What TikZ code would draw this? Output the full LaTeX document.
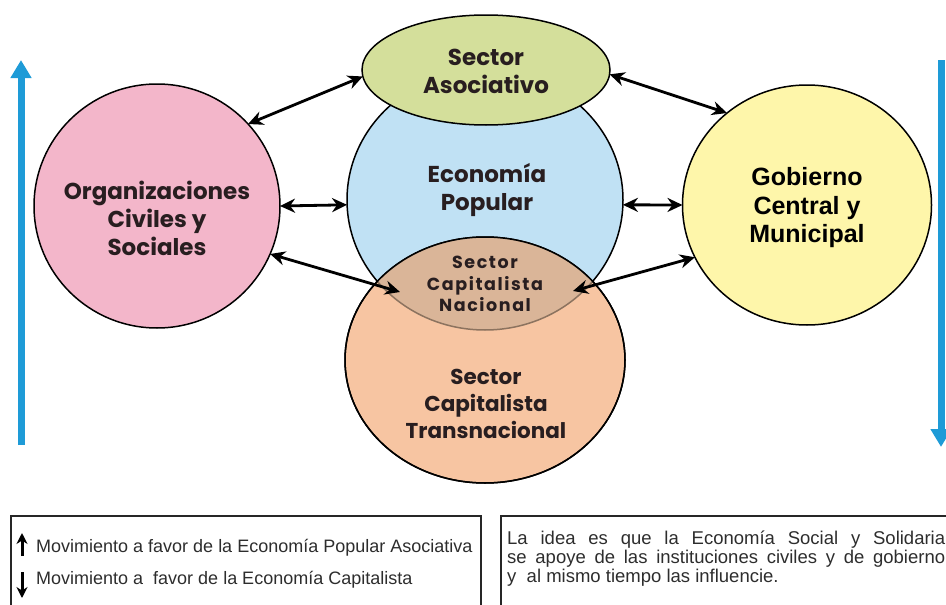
\documentclass[tikz,border=0pt]{standalone}
\usepackage{fontspec}
\setmainfont{Liberation Sans}
\newfontfamily\gothicfont{Poppins}
\usetikzlibrary{arrows.meta,shapes.geometric}
\definecolor{pinkc}{RGB}{243,182,202}
\definecolor{bluec}{RGB}{192,225,244}
\definecolor{yelc}{RGB}{254,246,170}
\definecolor{orac}{RGB}{247,197,162}
\definecolor{asoc}{RGB}{212,223,155}
\definecolor{lensc}{RGB}{218,181,152}
\definecolor{lensline}{RGB}{140,115,95}
\definecolor{arrblue}{RGB}{30,155,215}
\definecolor{txtc}{RGB}{40,30,32}
\definecolor{legtxt}{RGB}{45,45,45}
\begin{document}
\begin{tikzpicture}[x=1pt,y=-1pt,
  blob/.style={ellipse, draw=black, line width=1.5pt, inner sep=0pt, outer sep=0pt},
  ctext/.style={align=center, text=txtc, font=\gothicfont\bfseries\fontsize{23}{28}\selectfont},
  gtext/.style={align=center, text=black, font=\bfseries\fontsize{25}{28.5}\selectfont},
  ltext/.style={align=center, text=txtc, font=\gothicfont\bfseries\addfontfeature{LetterSpace=9}\fontsize{17.5}{21.5}\selectfont},
  conn/.style={{Stealth[length=15pt,width=14pt]}-{Stealth[length=15pt,width=14pt]}, line width=2.8pt, black},
  bluearrow/.style={-{Triangle[length=18pt,width=20pt]}, line width=7pt, arrblue},
  legbox/.style={draw=black!85, line width=1.6pt, inner sep=0pt, anchor=north west},
  legtext/.style={anchor=west, inner sep=0pt, text=legtxt, font=\fontsize{18}{20}\selectfont},
  legarrow/.style={-{Stealth[length=11pt,width=11pt]}, line width=3pt, black}
]
\useasboundingbox (0,0) rectangle (946,605);

% circles
\node[blob, fill=pinkc, minimum width=246pt, minimum height=244pt] (org) at (157,206) {};
\node[blob, fill=yelc, minimum width=249pt, minimum height=240pt] (gob) at (807,205) {};
\node[blob, fill=bluec, minimum width=276pt, minimum height=260pt] (eco) at (485,200) {};
\node[blob, fill=orac, minimum width=280pt, minimum height=246pt] (trans) at (485,360) {};

% lens (Sector Capitalista Nacional)
\begin{scope}
  \clip (485,200) ellipse [x radius=138, y radius=130];
  \fill[lensc] (485,360) ellipse [x radius=140, y radius=123];
\end{scope}
\begin{scope}
  \clip (485,360) ellipse [x radius=140, y radius=123];
  \draw[lensline, line width=1.5pt] (485,200) ellipse [x radius=138, y radius=130];
\end{scope}
\draw[black, line width=1.5pt] (485,360) ellipse [x radius=140, y radius=123];

% Sector Asociativo
\node[blob, fill=asoc, minimum width=248pt, minimum height=110pt] (aso) at (486,70) {};

% texts
\node[ctext] (orgtxt) at (157,218) {Organizaciones\\Civiles y\\Sociales};
\node[ctext] (ecotxt) at (487,190) {Economía\\Popular};
\node[ctext] (asotxt) at (486,71) {Sector\\Asociativo};
\node[ltext] (lenstxt) at (485,284) {Sector\\Capitalista\\Nacional};
\node[ctext, font=\gothicfont\bfseries\fontsize{21.5}{27}\selectfont] (transtxt) at (486,404) {Sector\\Capitalista\\Transnacional};
\node[gtext] (gobtxt) at (807,208) {Gobierno\\Central y\\Municipal};

% connector end points inside the lens
\coordinate (lensL) at (400,292);
\coordinate (lensR) at (573,291);

% connectors
\draw[conn] (org.42.8) -- (aso.183.5);
\draw[conn] (aso.-2.7) -- (gob.131.5);
\draw[conn] (org.0) -- (eco.182.5);
\draw[conn] (eco.-2.5) -- (gob.180.5);
\draw[conn] (org.-23.8) -- (lensL);
\draw[conn] (gob.205) -- (lensR);

% blue side arrows
\coordinate (upS) at (21,445);
\coordinate (upE) at (21,60);
\coordinate (dnS) at (941,60);
\coordinate (dnE) at (941,447);
\draw[bluearrow] (upS) -- (upE);
\draw[bluearrow] (dnS) -- (dnE);

% legend boxes
\node[legbox, minimum width=470pt, minimum height=110pt] (leg) at (10,515) {};
\node[legbox, minimum width=470pt, minimum height=110pt] (idea) at (500,515) {};

\coordinate (la1) at (22,556);
\coordinate (la2) at (22,533);
\coordinate (lb1) at (22,572);
\coordinate (lb2) at (22,598);
\draw[legarrow] (la1) -- (la2);
\draw[legarrow] (lb1) -- (lb2);
\node[legtext] (leg1) at (36,548) {Movimiento a favor de la Economía Popular Asociativa};
\node[legtext] (leg2) at (36,580) {Movimiento a\ \ favor de la Economía Capitalista};

\node[legtext, font=\fontsize{18.5}{20}\selectfont] (idea1) at (507,540) {\makebox[438pt][s]{La idea es que la Economía Social y Solidaria}};
\node[legtext, font=\fontsize{18.5}{20}\selectfont] (idea2) at (507,559) {\makebox[438pt][s]{se apoye de las instituciones civiles y de gobierno}};
\node[legtext, font=\fontsize{18.5}{20}\selectfont] (idea3) at (507,578) {y\ \ al mismo tiempo las influencie.};
\end{tikzpicture}
\end{document}
